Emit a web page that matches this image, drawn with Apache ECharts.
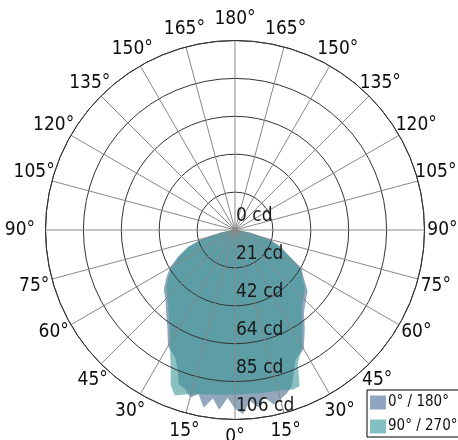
<!DOCTYPE html>
<html>
<head>
<meta charset="utf-8">
<script src="https://cdn.jsdelivr.net/npm/echarts@6/dist/echarts.min.js"></script>
<style>
html,body{margin:0;padding:0;background:#fff;}
#chart{width:458px;height:440px;}
</style>
</head>
<body>
<div id="chart"></div>
<script>
// C-plane names
var seriesNames = ['0° / 180°', '90° / 270°'];
// radial tick labels (cd)
var radialTicks = [0, 21, 42, 64, 85, 106];
// gamma angles (deg, 0 = straight down) and intensities (cd)
var angles0 = [0, 2.5, 5, 7.5, 10, 12.5, 15, 17.5, 20, 22.5, 25, 30, 35, 40, 45, 50, 55, 60, 65, 70, 75, 80, 85, 90,
               180,
               270, 275, 280, 285, 290, 295, 300, 305, 310, 315, 320, 325, 330, 335, 337.5, 340, 342.5, 345, 347.5, 350, 352.5, 355, 357.5, 360];
var values0 = [100, 94, 101, 95, 101, 94, 97, 93, 92, 84, 79, 75, 66, 60, 55, 52, 47, 42, 35, 28, 19, 8, 2, 0,
               0,
               0, 2, 9, 20, 27, 33, 43, 47, 53, 56, 60, 68, 77, 80, 86, 93, 96, 98, 100, 95, 100, 96, 103, 100];
var angles90 = [0, 5, 10, 15, 20, 22.5, 25, 30, 35, 40, 45, 50, 55, 60, 65, 70, 75, 80, 85, 90,
                180,
                270, 275, 280, 285, 290, 295, 300, 305, 310, 315, 320, 325, 330, 335, 337.5, 340, 345, 350, 355, 360];
var values90 = [92, 92.5, 93.5, 95, 98.5, 94, 85, 73, 64, 58, 53.5, 50, 45.5, 40.5, 34.5, 27.5, 18.5, 8, 2, 0,
                0,
                0, 2, 8, 18, 26, 32, 42, 46, 51, 54, 58, 66, 75, 83, 94.5, 95, 93, 92.5, 92, 92];

function pairs(vals, angs) {
  return vals.map(function (v, i) { return [v, angs[i]]; });
}

var font = "'DejaVu Sans Condensed', 'Open Sans', sans-serif";
var txt = { fontSize: 19, color: '#0d0d0d', fontFamily: font, align: 'center', verticalAlign: 'middle' };
function box(w, h, pad) {
  return Object.assign({ width: w, height: h, lineHeight: h, padding: pad || [0, 0, 0, 0] }, txt);
}
// label box tweaks (placement only), keyed by axis value
var labelBox = {
  0: 'a', 15: 'a', 30: 'w14', 45: 'w8', 60: 'h8', 75: 'dn5', 90: 'w39', 105: 'up7', 120: 'h14',
  135: 'w14h18', 150: 'w10', 165: 'a', 180: 'h30', 195: 'a', 210: 'w10', 225: 'w14h18', 240: 'h14',
  255: 'up7', 270: 'a', 285: 'dn5', 300: 'h8', 315: 'w8', 330: 'w14', 345: 'a'
};

var chart = echarts.init(document.getElementById('chart'), null, {renderer: 'canvas'});
chart.setOption({
  animation: false,
  backgroundColor: '#fff',
  polar: { center: [235, 230], radius: 189.5 },
  angleAxis: {
    type: 'value', min: 0, max: 360, interval: 15, startAngle: -90, clockwise: true, z: 10,
    axisLine: { show: true, lineStyle: { color: '#333', width: 1 } },
    axisTick: { show: false },
    splitLine: { show: true, lineStyle: { color: '#888', width: 1 } },
    axisLabel: {
      margin: 6, fontSize: 19, color: '#0d0d0d', fontFamily: font,
      formatter: function (v) {
        if (v >= 360) return '';
        var d = v <= 180 ? v : 360 - v;
        return '{' + labelBox[v] + '|' + d + '°}';
      },
      rich: {
        a: box(24, 24),
        h30: box(24, 30),
        w10: box(10, 24),
        w14h18: box(14, 18),
        h14: box(24, 14),
        up7: box(24, 24, [0, 0, 14, 0]),
        w39: box(39, 24),
        dn5: box(24, 24, [10, 0, 0, 0]),
        h8: box(24, 8),
        w8: box(8, 24),
        w14: box(14, 24)
      }
    }
  },
  radiusAxis: {
    type: 'value', min: 0, max: 106, interval: 21.2, z: 10,
    axisLine: { show: false }, axisTick: { show: false },
    splitLine: { show: true, lineStyle: { color: '#333', width: 1 } },
    axisLabel: {
      margin: 1, fontSize: 19, color: '#1a1a1a', fontFamily: font,
      verticalAlign: 'bottom', padding: [0, 0, 4, 0],
      formatter: function (v, i) { return radialTicks[i] + ' cd'; }
    }
  },
  legend: {
    orient: 'vertical', left: 367, top: 390, icon: 'rect',
    itemWidth: 16, itemHeight: 14, itemGap: 9,
    padding: [5, 30, 3, 3], borderColor: '#000', borderWidth: 1, backgroundColor: '#fff',
    textStyle: { fontSize: 15, color: '#111', fontFamily: font, padding: [0, 0, 0, -3] },
    data: [
      { name: seriesNames[0], itemStyle: { color: '#8fa5bd' } },
      { name: seriesNames[1], itemStyle: { color: '#82c0c1' } }
    ]
  },
  series: [
    {
      name: seriesNames[0], type: 'line', coordinateSystem: 'polar', z: 1,
      symbol: 'none', smooth: false,
      lineStyle: { width: 0 },
      itemStyle: { color: '#8fa5bd' },
      areaStyle: { color: '#4a6a90', opacity: 0.6 },
      data: pairs(values0, angles0)
    },
    {
      name: seriesNames[1], type: 'line', coordinateSystem: 'polar', z: 1,
      symbol: 'none', smooth: false,
      lineStyle: { width: 0 },
      itemStyle: { color: '#82c0c1' },
      areaStyle: { color: '#3a9898', opacity: 0.6 },
      data: pairs(values90, angles90)
    }
  ]
});
</script>
</body>
</html>
